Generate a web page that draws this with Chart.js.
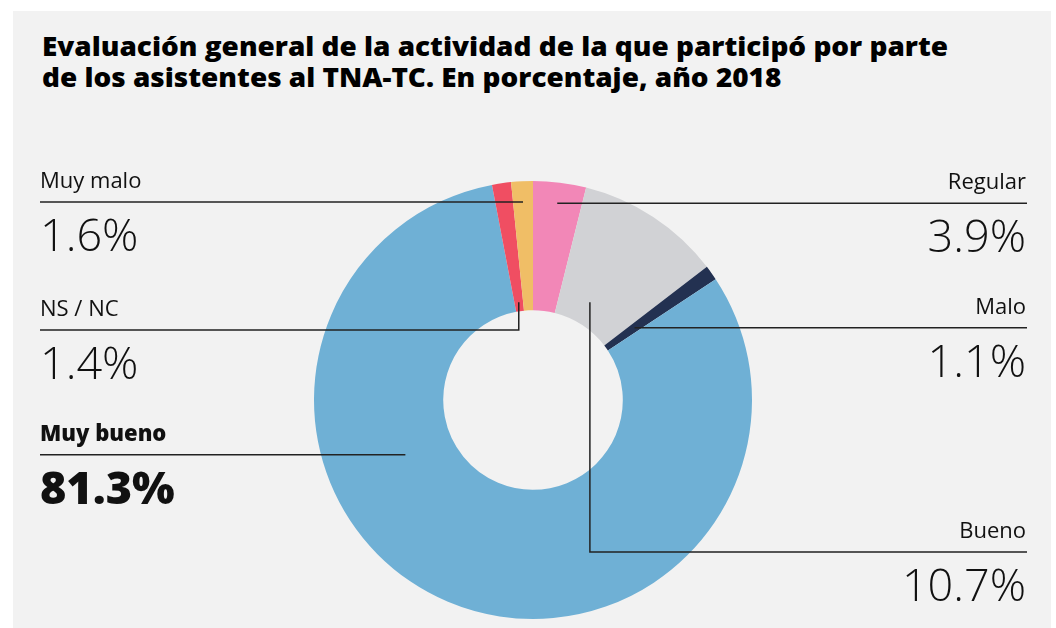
<!DOCTYPE html>
<html lang="es">
<head>
<meta charset="utf-8">
<script src="https://cdn.jsdelivr.net/npm/chart.js@4.4.1/dist/chart.umd.min.js"></script>
<style>
  html, body { margin: 0; padding: 0; background: #fff; }
  #wrap { position: relative; width: 1056px; height: 628px; overflow: hidden; }
  #panel { position: absolute; left: 13px; top: 11px; width: 1038px; height: 617px; background: #f2f2f2; }
  #title {
    position: absolute; left: 42px; top: 31px; margin: 0;
    font-family: "Open Sans", "DejaVu Sans", sans-serif; font-weight: 800;
    font-size: 26px; line-height: 31px; color: #000; white-space: nowrap;
    transform-origin: 0 0;
  }
  #chart { position: absolute; left: 0; top: 0; }
</style>
</head>
<body>
<div id="wrap">
  <div id="panel"></div>
  <h1 id="title"><span id="t1">Evaluación general de la actividad de la que participó por parte</span><br><span>de los asistentes al TNA-TC. En porcentaje, año 2018</span></h1>
  <canvas id="chart" width="1056" height="628"></canvas>
</div>
<script>
// Datos (clockwise desde arriba)
const categories = ['Regular', 'Bueno', 'Malo', 'Muy bueno', 'NS / NC', 'Muy malo'];
const values = [3.9, 10.7, 1.1, 81.3, 1.4, 1.6];
const colors = ['#f287b7', '#d1d2d5', '#233151', '#6fb0d5', '#f04e62', '#f0be66'];

// Etiquetas: lado, posición en el arco (t = fracción del ángulo, rr = fracción del grosor), codo opcional
const callouts = [
  { side: 'right', t: 0.5, rr: 0.84 },
  { side: 'right', t: 0.42, rr: 0.18, elbowY: 552 },
  { side: 'right', t: 0.5, rr: 0.27 },
  { side: 'left', t: 0.65, rr: 0.38, bold: true },
  { side: 'left', t: 0.5, rr: 0.07, elbowY: 330 },
  { side: 'left', t: 0.5, rr: 0.84 }
];

const FONT = '"Open Sans", "DejaVu Sans", sans-serif';

// ajustar el ancho del título (línea 1 = 906px)
const t1 = document.getElementById('t1');
const w = t1.getBoundingClientRect().width;
document.getElementById('title').style.transform = 'scaleX(' + (906 / w) + ')';

const calloutPlugin = {
  id: 'callouts',
  afterDraw(chart) {
    const ctx = chart.ctx;
    const arcs = chart.getDatasetMeta(0).data;
    ctx.save();
    arcs.forEach((arc, i) => {
      const c = callouts[i];
      const a = arc.startAngle + (arc.endAngle - arc.startAngle) * c.t;
      const r = arc.innerRadius + (arc.outerRadius - arc.innerRadius) * c.rr;
      const ax = arc.x + Math.cos(a) * r;
      const ay = arc.y + Math.sin(a) * r;
      const lineY = c.elbowY !== undefined ? c.elbowY : ay;
      const edge = c.side === 'left' ? 40 : 1027;

      ctx.strokeStyle = '#222';
      ctx.lineWidth = 1.5;
      ctx.beginPath();
      ctx.moveTo(edge, lineY);
      ctx.lineTo(ax, lineY);
      if (c.elbowY !== undefined) ctx.lineTo(ax, ay);
      ctx.stroke();

      const tx = c.side === 'left' ? 40 : 1026;
      ctx.textAlign = c.side === 'left' ? 'left' : 'right';
      ctx.textBaseline = 'alphabetic';
      ctx.fillStyle = '#111';
      ctx.font = (c.bold ? '800 ' : '400 ') + '22px ' + FONT;
      ctx.fillText(categories[i], tx, lineY - 14);
      ctx.font = (c.bold ? '800 ' : '300 ') + '45px ' + FONT;
      ctx.fillText(values[i].toFixed(1) + '%', tx, lineY + 49);
    });
    ctx.restore();
  }
};

new Chart(document.getElementById('chart'), {
  type: 'doughnut',
  data: {
    labels: categories,
    datasets: [{
      data: values,
      backgroundColor: colors,
      borderWidth: 0,
      hoverOffset: 0
    }]
  },
  options: {
    responsive: false,
    animation: false,
    cutout: '41%',
    layout: { padding: { left: 314, right: 304, top: 181, bottom: 9 } },
    plugins: {
      legend: { display: false },
      tooltip: { enabled: false }
    }
  },
  plugins: [calloutPlugin]
});
</script>
</body>
</html>
